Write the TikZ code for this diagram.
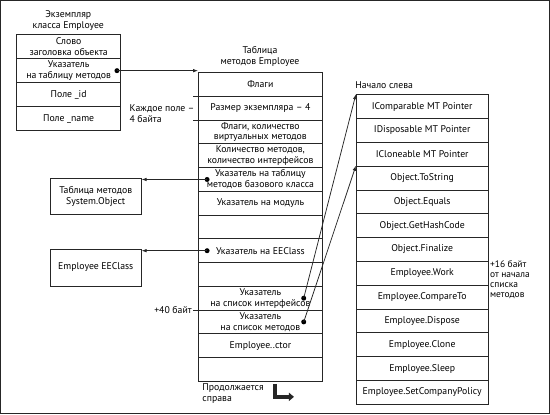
\documentclass[tikz,border=0pt]{standalone}
\usepackage{fontspec}
\setmainfont{PT Sans}
\usetikzlibrary{arrows.meta}
\begin{document}
\begin{tikzpicture}[x=1bp,y=-1bp,
  font=\fontsize{9.8}{11}\selectfont,
  line width=0.75bp,
  every path/.style={draw=black!85},
  lcell/.style={draw, minimum width=104bp, minimum height=24bp, inner sep=0pt, align=center, anchor=north west},
  mcell/.style={draw, minimum width=124bp, minimum height=23.77bp, inner sep=0pt, align=center, anchor=north west},
  rcell/.style={draw, minimum width=132bp, minimum height=23.85bp, inner sep=0pt, align=center, anchor=north west},
  ext/.style={draw, minimum width=91bp, minimum height=36bp, inner sep=0pt, align=center},
  lbl/.style={inner sep=0pt, align=center},
  dot/.style={circle, fill=black, inner sep=0pt, minimum size=5bp},
  arr/.style={-{Latex[length=5bp,width=3.5bp]}}
]
\useasboundingbox (0,0) rectangle (550,414);

% left instance box
\node[lbl] (lt) at (68,20) {Экземпляр\\класса Employee};
\foreach \t [count=\i] in {{Слово\\заголовка объекта},{Указатель\\на таблицу методов},{Поле \_id},{Поле \_name}}
  \node[lcell] (l\i) at ({16},{34+(\i-1)*24}) {\t};

% middle method table
\node[lbl] (mt) at (260,56) {Таблица\\методов Employee};
\foreach \t [count=\i] in {{Флаги},{Размер экземпляра – 4},{Флаги, количество\\виртуальных методов},{Количество методов,\\количество интерфейсов},{Указатель на таблицу\\методов базового класса},{Указатель на модуль},{},{Указатель на EEClass},{},{Указатель\\на список интерфейсов},{Указатель\\на список методов},{Employee..ctor},{}}
  \node[mcell] (m\i) at ({198},{72+(\i-1)*23.77}) {\t};

% right list
\node[lbl, anchor=west] (rt) at (355,85) {Начало слева};
\foreach \t [count=\i] in {{IComparable MT Pointer},{IDisposable MT Pointer},{ICloneable MT Pointer},{Object.ToString},{Object.Equals},{Object.GetHashCode},{Object.Finalize},{Employee.Work},{Employee.CompareTo},{Employee.Dispose},{Employee.Clone},{Employee.Sleep},{Employee.SetCompanyPolicy}}
  \node[rcell] (r\i) at ({356},{94+(\i-1)*23.85}) {\t};

% external boxes
\node[ext] (so) at (95.5,196) {Таблица методов\\System.Object};
\node[ext, minimum height=37bp] (ee) at (95.5,267.5) {Employee EEClass};

% labels
\node[lbl, anchor=west, align=left] (each) at (129,113) {Каждое поле –\\4 байта};
\node[lbl, anchor=east] (p40) at (192,310) {+40 байт};
\node[lbl, anchor=north west, align=left, font=\fontsize{9.5}{10.2}\selectfont] (p16) at (490,260) {+16 байт\\от начала\\списка\\методов};
\node[lbl, anchor=west, align=left] (cont) at (202,394) {Продолжается\\справа};

% ticks
\draw (m1.south west) -- ++(-5,0);
\draw (m2.south west) -- ++(-5,0);
\draw (m10.south west) -- ++(-5,0);

% dots
\node[dot] (dl) at ([xshift=-4bp]l2.east) {};
\node[dot] (db) at ([xshift=9bp]m5.west) {};
\node[dot] (de) at ([xshift=9bp]m8.west) {};
\node[dot] (di) at ([xshift=-19bp]m10.east) {};
\node[dot] (dm) at ([xshift=-19bp]m11.east) {};

% connectors
\draw[arr] (dl.center) -- (dl.center -| m1.west);
\draw[arr] (db.center) -- (db.center -| so.east);
\draw[arr] (de.center) -- (de.center -| ee.east);
\draw[arr] (di.center) -- (r1.north west);
\draw[arr] (dm.center) -- (r4.north west);

% continuation arrow
\coordinate (c1) at (275,384);
\coordinate (c2) at (275,397);
\coordinate (c3) at (294,397);
\draw[line width=3.5bp, -{Triangle[length=5bp,width=8bp]}] (c1) -- (c2) -- (c3);
\end{tikzpicture}
\end{document}
